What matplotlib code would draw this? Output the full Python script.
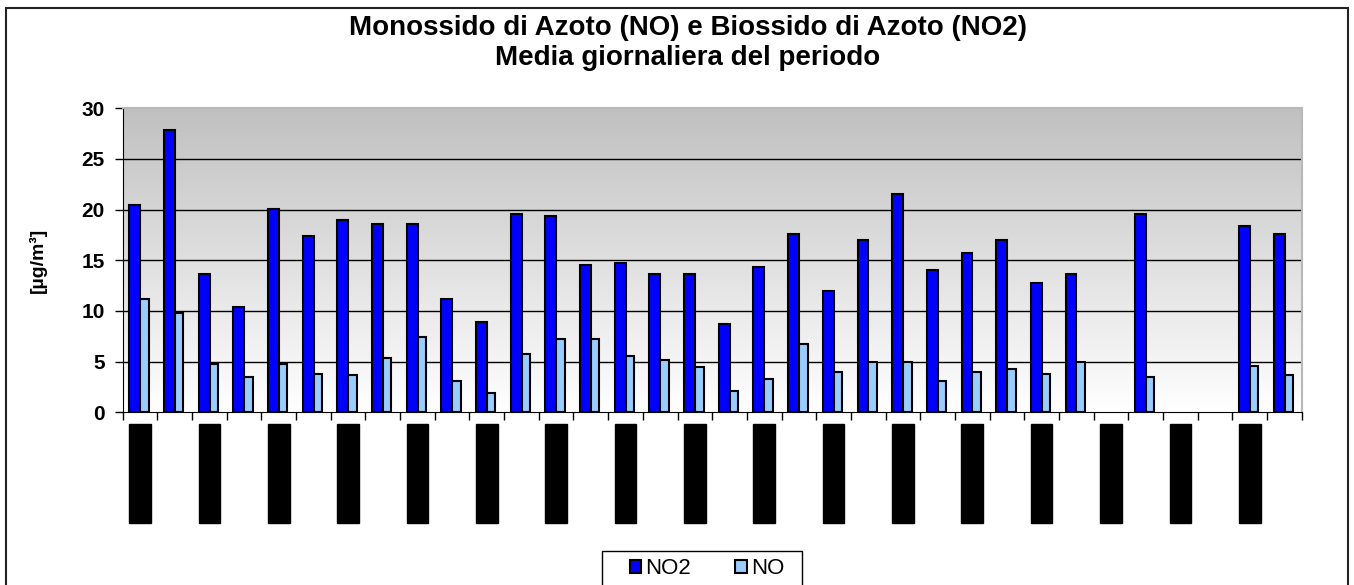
import numpy as np
import matplotlib.pyplot as plt
from matplotlib.patches import Rectangle
from matplotlib.colors import LinearSegmentedColormap

# daily means (gaps = no data)
no2 = [20.5, 27.9, 13.6, 10.4, 20.1, 17.4, 19.0, 18.6, 18.6, 11.2, 8.9, 19.6,
       19.4, 14.5, 14.7, 13.6, 13.6, 8.7, 14.3, 17.6, 12.0, 17.0, 21.5, 14.0,
       15.7, 17.0, 12.8, 13.6, np.nan, 19.6, np.nan, np.nan, 18.4, 17.6]
no = [11.2, 9.8, 4.8, 3.5, 4.8, 3.8, 3.7, 5.4, 7.4, 3.1, 1.9, 5.8,
      7.2, 7.2, 5.6, 5.2, 4.5, 2.1, 3.3, 6.7, 4.0, 5.0, 5.0, 3.1,
      4.0, 4.3, 3.8, 5.0, np.nan, 3.5, np.nan, np.nan, 4.6, 3.7]
# date labels are unreadable in the source (drawn as black blocks)
date_labels = ['gg/mm/aaaa'] * 17
yticks = [0, 5, 10, 15, 20, 25, 30]

plt.rcParams['font.family'] = ['Liberation Sans', 'DejaVu Sans']

fig = plt.figure(figsize=(13.54, 5.85), dpi=100)
ax = fig.add_axes([0.0906, 0.2952, 0.8708, 0.5197])

x = np.arange(len(no2))

# grey -> white background gradient
grad = np.linspace(1, 0, 256).reshape(-1, 1)
cmap = LinearSegmentedColormap.from_list('g', ['#ffffff', '#c0c0c0'])
ax.imshow(grad, extent=[0, 1, 0, 1], transform=ax.transAxes, aspect='auto',
          cmap=cmap, zorder=0)

for y in yticks[1:-1]:
    ax.axhline(y, color='black', lw=1, zorder=1)

ax.bar(x - 0.31, no2, width=0.315, align='edge', color='#0000ff',
       edgecolor='black', linewidth=1.5, label='NO2', zorder=3)
ax.bar(x + 0.005, no, width=0.245, align='edge', color='#99ccff',
       edgecolor='black', linewidth=1.5, label='NO', zorder=3)

ax.set_xlim(-0.5, len(no2) - 0.5)
ax.set_ylim(0, 30)
ax.set_yticks(yticks)
ax.set_yticklabels([str(v) for v in yticks], fontsize=15, fontweight='bold')
ax.tick_params(axis='y', direction='out', length=6, width=1, pad=7)

# labels every other day, ticks at day boundaries
ax.set_xticks(x[::2])
ax.set_xticklabels(date_labels, rotation=90, fontsize=12, color='black',
                   bbox=dict(boxstyle='square,pad=0.2', facecolor='black', edgecolor='black'))
ax.set_xticks(np.arange(-0.5, len(no2)), minor=True)
ax.tick_params(axis='x', which='major', length=0, pad=10.5)
ax.tick_params(axis='x', which='minor', direction='out', length=6, width=1)

for s in ['left', 'bottom']:
    ax.spines[s].set_color('black')
for s in ['top', 'right']:
    ax.spines[s].set_color('#b8b8b8')
    ax.spines[s].set_linewidth(1.5)

ax.set_ylabel('[µg/m³]', fontsize=14, fontweight='bold')
ax.yaxis.set_label_coords(-0.064, 0.5)

fig.text(0.508, 1 - 28 / 585, 'Monossido di Azoto (NO) e Biossido di Azoto (NO2)',
         ha='center', va='center', fontsize=20, fontweight='bold')
fig.text(0.508, 1 - 58 / 585, 'Media giornaliera del periodo',
         ha='center', va='center', fontsize=20, fontweight='bold')

# legend entries without frame, frame drawn separately (box runs off the bottom)
leg = fig.legend(loc='center', bbox_to_anchor=(707 / 1354, 1 - 569 / 585),
                 ncol=2, fontsize=16, frameon=False,
                 handlelength=0.5, handleheight=0.5, columnspacing=2.0,
                 handletextpad=0.2, borderpad=0, borderaxespad=0)
fig.patches.append(Rectangle((602 / 1354, -0.02), 200 / 1354, 1 - 551 / 585 + 0.02,
                             transform=fig.transFigure, fill=False,
                             edgecolor='black', lw=1))

# outer chart frame
fig.patches.append(Rectangle((6 / 1354, -0.01), 1341.5 / 1354, 1 - 8 / 585 + 0.01,
                             transform=fig.transFigure, fill=False,
                             edgecolor='#222222', lw=1.5))

fig.savefig('out.png', dpi=100)
